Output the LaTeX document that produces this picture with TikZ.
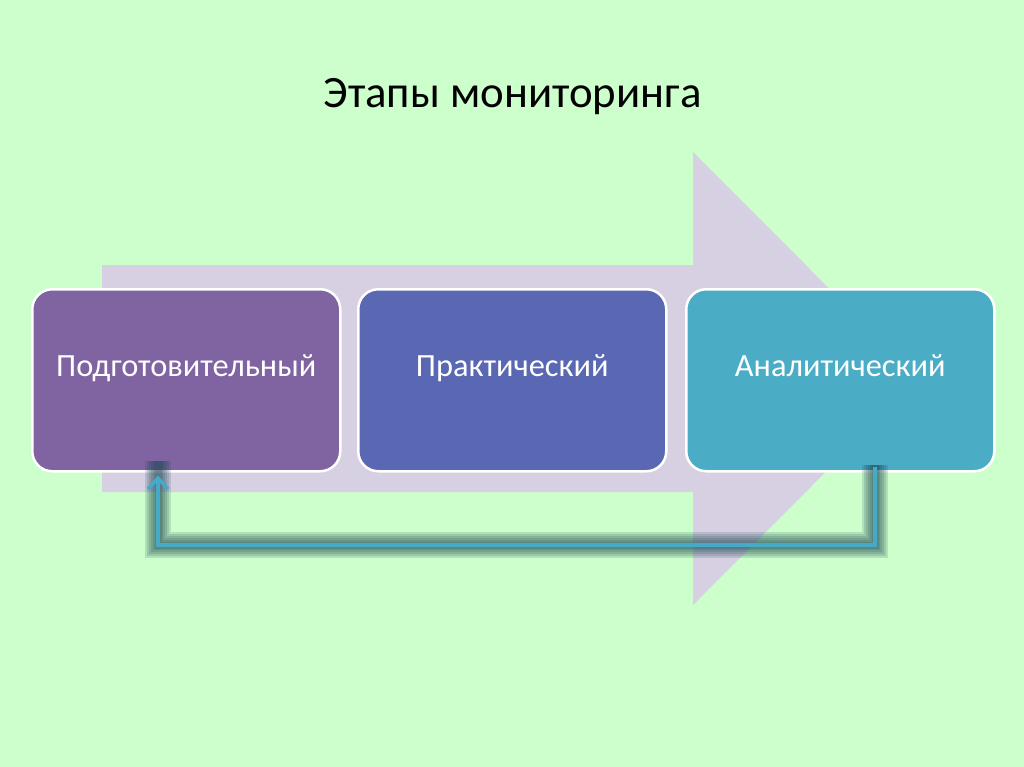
\documentclass[tikz,border=0pt]{standalone}
\usepackage{fontspec}
\setmainfont{Carlito}
\usetikzlibrary{arrows.meta}
\definecolor{bg}{HTML}{CCFFCC}
\definecolor{bigarrow}{HTML}{D6D0E2}
\definecolor{cpurple}{HTML}{8064A2}
\definecolor{cblue}{HTML}{5A68B4}
\definecolor{cteal}{HTML}{4BACC6}
\definecolor{conn}{HTML}{45A9C8}
\definecolor{glowc}{HTML}{1F4A55}
\tikzset{
  stagebox/.style={draw=white, line width=2.5bp, rounded corners=20bp, minimum width=308bp, minimum height=182bp, anchor=north west, inner sep=0pt},
  stagetext/.style={text=white, font=\fontsize{32.5}{38}\selectfont, anchor=base, inner sep=0pt},
  glow/.style={line width=#1, draw=glowc, draw opacity=0.16, line join=miter, line cap=butt},
  connline/.style={line width=4bp, draw=conn, line join=miter}
}
\begin{document}
\begin{tikzpicture}[x=1bp,y=-1bp]
\fill[bg] (0,0) rectangle (1024,767);
\useasboundingbox (0,0) rectangle (1024,767);
% title
\node[font=\fontsize{45}{51}\selectfont, text=black, anchor=base, inner sep=0pt] (title) at (512.5,107) {Этапы мониторинга};
% big background arrow
\fill[bigarrow] (102,265) -- (693,265) -- (693,152) -- (919,378.5) -- (693,605) -- (693,492) -- (102,492) -- cycle;
% stage boxes
\node[stagebox, fill=cpurple] (b1) at (31,288) {};
\node[stagebox, fill=cblue] (b2) at (357,288) {};
\node[stagebox, fill=cteal] (b3) at (685,288) {};
\node[stagetext] (t1) at ([yshift=4bp]b1.center) {Подготовительный};
\node[stagetext] (t2) at ([yshift=4bp]b2.center) {Практический};
\node[stagetext] (t3) at ([yshift=4bp]b3.center) {Аналитический};
% feedback connector with soft dark glow
\coordinate (c1) at (875,545);
\coordinate (c2) at (158,545);
\foreach \w in {26bp,22bp,18bp,14bp,10bp,7bp}{
  \draw[glow=\w] ([yshift=8bp]b3.south -| c1) -- (c1) -- (c2) -- ([yshift=12bp]b1.south -| c2);
}
\draw[connline, -{Straight Barb[length=11bp,width=20bp,line width=3.5bp]}] ([yshift=6bp]b3.south -| c1) -- (c1) -- (c2) -- ([yshift=-3bp]b1.south -| c2);
\end{tikzpicture}
\end{document}
